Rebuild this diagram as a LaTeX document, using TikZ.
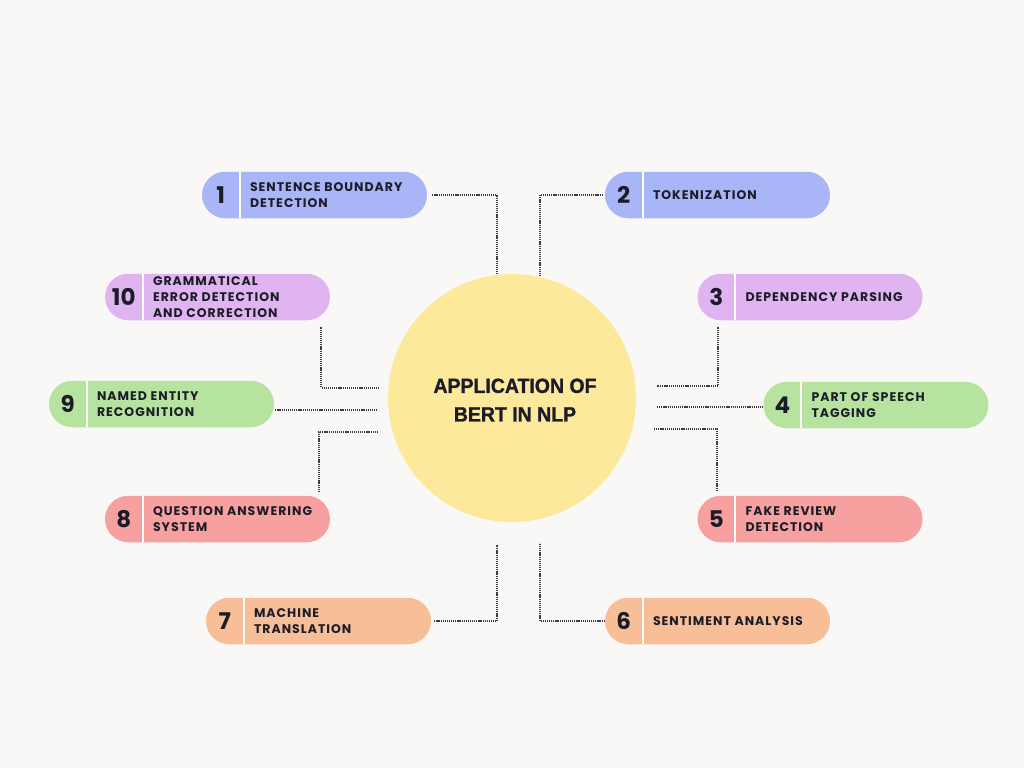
\documentclass[tikz,border=0pt]{standalone}
\usepackage{fontspec}
\setmainfont{Poppins}
\newfontfamily\lblfont[LetterSpace=8]{Poppins}
\newfontfamily\numfont{Poppins}
\newfontfamily\ctrfont[FakeStretch=0.95, FakeBold=1.2, UprightFont={* Bold}]{Liberation Sans}
\definecolor{bgc}{RGB}{250,248,246}
\definecolor{pblue}{RGB}{168,181,246}
\definecolor{ppurple}{RGB}{224,180,240}
\definecolor{pgreen}{RGB}{182,228,160}
\definecolor{pred}{RGB}{246,160,160}
\definecolor{porange}{RGB}{248,190,152}
\definecolor{pyellow}{RGB}{253,233,155}
\definecolor{ink}{RGB}{28,28,40}
\definecolor{dotc}{RGB}{60,60,66}
\newcommand\mkpill[6]{%
  \node[pill, fill=#4] (#1) at (#2,#3) {};
  \draw[sepline] ([xshift=38pt]#1.north west) -- ([xshift=38pt]#1.south west);
  \node[num] (#1n) at ([xshift=19pt]#1.west) {#5};
  \node[lbl] (#1t) at ([xshift=48pt]#1.west) {#6};
}
\begin{document}
\begin{tikzpicture}[x=1pt,y=-1pt,
  pill/.style={rectangle, rounded corners=23.25pt, minimum width=225pt, minimum height=46.5pt, inner sep=0pt, draw=none},
  sepline/.style={draw=white, line width=2pt},
  num/.style={font=\numfont\bfseries\fontsize{23}{23}\selectfont, text=ink, inner sep=0pt},
  lbl/.style={anchor=west, align=left, font=\lblfont\bfseries\fontsize{12.5}{16}\selectfont, text=ink, inner sep=0pt},
  conn/.style={draw=dotc, line width=2pt, dash pattern=on 1.2pt off 0.9pt},
  hub/.style={circle, fill=pyellow, minimum size=248pt, inner sep=0pt},
  hubtext/.style={align=center, inner sep=0pt, font=\ctrfont\fontsize{20.5}{28.5}\selectfont, text=ink}
]
\useasboundingbox (0,0) rectangle (1024,768);
\fill[bgc] (0,0) rectangle (1024,768);

\node[hub] (c) at (512,398) {};
\node[hubtext] (ct) at (515,400) {APPLICATION OF\\BERT IN NLP};

\mkpill{p1}{314.5}{195}{pblue}{1}{SENTENCE BOUNDARY\\DETECTION}
\mkpill{p2}{717.5}{195}{pblue}{2}{TOKENIZATION}
\mkpill{p10}{217.5}{297}{ppurple}{10}{\lblfont\bfseries\fontsize{12.5}{15.5}\selectfont GRAMMATICAL\\ERROR DETECTION\\AND CORRECTION}
\mkpill{p3}{810}{297}{ppurple}{3}{DEPENDENCY PARSING}
\mkpill{p9}{161.5}{404}{pgreen}{9}{NAMED ENTITY\\RECOGNITION}
\mkpill{p4}{876}{405}{pgreen}{4}{PART OF SPEECH\\TAGGING}
\mkpill{p8}{217.5}{519}{pred}{8}{QUESTION ANSWERING\\SYSTEM}
\mkpill{p5}{810}{519}{pred}{5}{FAKE REVIEW\\DETECTION}
\mkpill{p7}{318.5}{621}{porange}{7}{MACHINE\\TRANSLATION}
\mkpill{p6}{717.5}{621}{porange}{6}{SENTIMENT ANALYSIS}

% connector end points near the hub
\coordinate (e10) at (380,388);
\coordinate (e9)  at (378,410);
\coordinate (e8)  at (378,432);
\coordinate (e3)  at (657,386);
\coordinate (e4)  at (657,407);
\coordinate (e5)  at (654,429);
\coordinate (e7)  at (497,545);
\coordinate (e6)  at (540,543);

\draw[conn] ([xshift=5pt]p1.east) -| (c.97);
\draw[conn] ([xshift=-2pt]p2.west) -| (c.77);
\draw[conn] ([xshift=-9pt,yshift=-7pt]p10.south east) |- (e10);
\draw[conn] ([xshift=1pt]e9 -| p9.east) -- (e9);
\draw[conn] (e8) -| ([xshift=-11pt,yshift=3pt]p8.north east);
\draw[conn] ([xshift=21pt,yshift=-7pt]p3.south west) |- (e3);
\draw[conn] (e4) -- ([xshift=-1pt]e4 -| p4.west);
\draw[conn] (e5) -| ([xshift=20pt,yshift=5pt]p5.north west);
\draw[conn] ([xshift=3pt]p7.east) -| (e7);
\draw[conn] (p6.west) -| (e6);
\end{tikzpicture}
\end{document}
